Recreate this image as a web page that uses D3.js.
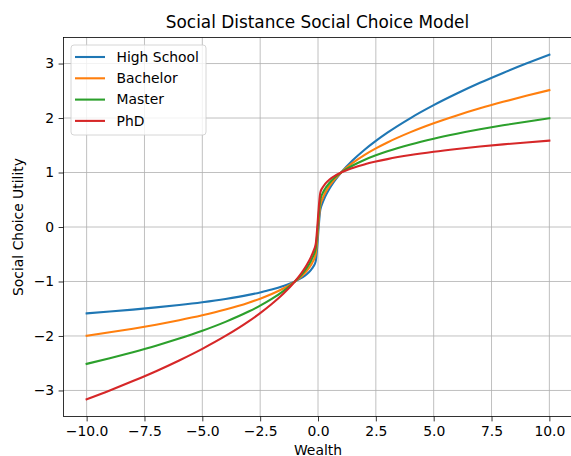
<!DOCTYPE html>
<html>
<head>
<meta charset="utf-8">
<script src="https://cdn.jsdelivr.net/npm/d3@7"></script>
<style>
  html, body { margin: 0; padding: 0; background: #fff; }
  svg { display: block; font-family: "DejaVu Sans", sans-serif; }
</style>
</head>
<body>
<svg id="chart" width="571" height="456"></svg>
<script>
// Wealth sample points (x) and the utility of each education level at those points
const wealth = [-10, -9, -8, -7, -6, -5, -4, -3, -2.5, -2, -1.5, -1, -0.7, -0.5, -0.3, -0.2, -0.1,
                0.1, 0.2, 0.3, 0.5, 0.7, 1, 1.5, 2, 2.5, 3, 4, 5, 6, 7, 8, 9, 10];

const highSchool = [-1.585, -1.552, -1.516, -1.476, -1.431, -1.380, -1.320, -1.246, -1.201, -1.149, -1.084, -1.0, -0.931, -0.871, -0.786, -0.725, -0.631,
                    0.316, 0.447, 0.548, 0.707, 0.837, 1.0, 1.225, 1.414, 1.581, 1.732, 2.0, 2.236, 2.449, 2.646, 2.828, 3.0, 3.162];
const bachelor   = [-1.995, -1.933, -1.866, -1.793, -1.712, -1.621, -1.516, -1.390, -1.316, -1.231, -1.129, -1.0, -0.899, -0.812, -0.697, -0.617, -0.501,
                    0.398, 0.525, 0.618, 0.758, 0.867, 1.0, 1.176, 1.320, 1.443, 1.552, 1.741, 1.904, 2.048, 2.178, 2.297, 2.408, 2.512];
const master     = [-2.512, -2.408, -2.297, -2.178, -2.048, -1.904, -1.741, -1.552, -1.443, -1.320, -1.176, -1.0, -0.867, -0.758, -0.618, -0.525, -0.398,
                    0.501, 0.617, 0.697, 0.812, 0.899, 1.0, 1.129, 1.231, 1.316, 1.390, 1.516, 1.621, 1.712, 1.793, 1.866, 1.933, 1.995];
const phd        = [-3.162, -3.0, -2.828, -2.646, -2.449, -2.236, -2.0, -1.732, -1.581, -1.414, -1.225, -1.0, -0.837, -0.707, -0.548, -0.447, -0.316,
                    0.631, 0.725, 0.786, 0.871, 0.931, 1.0, 1.084, 1.149, 1.201, 1.246, 1.320, 1.380, 1.431, 1.476, 1.516, 1.552, 1.585];

const seriesNames = ["High School", "Bachelor", "Master", "PhD"];
const seriesValues = [highSchool, bachelor, master, phd];
const seriesColors = ["#1f77b4", "#ff7f0e", "#2ca02c", "#d62728"];

const xTicks = [-10, -7.5, -5, -2.5, 0, 2.5, 5, 7.5, 10];
const yTicks = [-3, -2, -1, 0, 1, 2, 3];

const svg = d3.select("#chart");
const plot = { left: 63.5, right: 572.5, top: 37.5, bottom: 416.5 };

const x = d3.scaleLinear().domain([-11, 11]).range([plot.left, plot.right]);
const y = d3.scaleLinear().domain([-3.478, 3.478]).range([plot.bottom, plot.top]);

// grid
const grid = svg.append("g").attr("stroke", "#b0b0b0").attr("stroke-width", 0.8);
grid.selectAll("line.v").data(xTicks).join("line")
  .attr("x1", d => x(d)).attr("x2", d => x(d))
  .attr("y1", plot.top).attr("y2", plot.bottom);
grid.selectAll("line.h").data(yTicks).join("line")
  .attr("y1", d => y(d)).attr("y2", d => y(d))
  .attr("x1", plot.left).attr("x2", plot.right);

// curves
const line = d3.line().x(d => x(d[0])).y(d => y(d[1])).curve(d3.curveMonotoneX);
seriesValues.forEach((vals, i) => {
  svg.append("path")
    .datum(wealth.map((w, j) => [w, vals[j]]))
    .attr("fill", "none")
    .attr("stroke", seriesColors[i])
    .attr("stroke-width", 2.1)
    .attr("stroke-linejoin", "round")
    .attr("stroke-linecap", "square")
    .attr("d", line);
});

// axes
const fmtX = d => (d < 0 ? "\u2212" : "") + Math.abs(d).toFixed(1);
const fmtY = d => (d < 0 ? "\u2212" : "") + Math.abs(d);

const xAxis = svg.append("g").attr("transform", `translate(0,${plot.bottom})`)
  .call(d3.axisBottom(x).tickValues(xTicks).tickFormat(fmtX).tickSize(4.9).tickPadding(4.5));
const yAxis = svg.append("g").attr("transform", `translate(${plot.left},0)`)
  .call(d3.axisLeft(y).tickValues(yTicks).tickFormat(fmtY).tickSize(4.9).tickPadding(4.5));
[xAxis, yAxis].forEach(a => {
  a.select(".domain").remove();
  a.selectAll(".tick line").attr("stroke", "#000").attr("stroke-width", 0.8);
  a.selectAll(".tick text").attr("fill", "#000").style("font-size", "13.9px")
    .style("font-family", "'DejaVu Sans', sans-serif");
});

// spines
svg.append("rect")
  .attr("x", plot.left).attr("y", plot.top)
  .attr("width", plot.right - plot.left).attr("height", plot.bottom - plot.top)
  .attr("fill", "none").attr("stroke", "#000").attr("stroke-width", 0.8);

// title and axis labels
svg.append("text").attr("x", (plot.left + 572.5) / 2 - 0.5).attr("y", 28)
  .attr("text-anchor", "middle").style("font-size", "16.9px").attr("fill", "#000")
  .text("Social Distance Social Choice Model");
svg.append("text").attr("x", x(0)).attr("y", 454.5)
  .attr("text-anchor", "middle").style("font-size", "13.9px").attr("fill", "#000")
  .text("Wealth");
svg.append("text")
  .attr("transform", `translate(23,${y(0)}) rotate(-90)`)
  .attr("text-anchor", "middle").style("font-size", "13.9px").attr("fill", "#000")
  .text("Social Choice Utility");

// legend
const lg = svg.append("g").attr("transform", `translate(${plot.left + 7.5},${plot.top + 7.5})`);
lg.append("rect").attr("width", 135).attr("height", 90).attr("rx", 3)
  .attr("fill", "#fff").attr("fill-opacity", 0.8)
  .attr("stroke", "#cccccc").attr("stroke-width", 0.8);
seriesNames.forEach((name, i) => {
  const yy = 12 + i * 21.3;
  lg.append("line").attr("x1", 4).attr("x2", 34).attr("y1", yy).attr("y2", yy)
    .attr("stroke", seriesColors[i]).attr("stroke-width", 2.1);
  lg.append("text").attr("x", 45.5).attr("y", yy).attr("dy", "0.35em")
    .style("font-size", "13.9px").attr("fill", "#000").text(name);
});
</script>
</body>
</html>
